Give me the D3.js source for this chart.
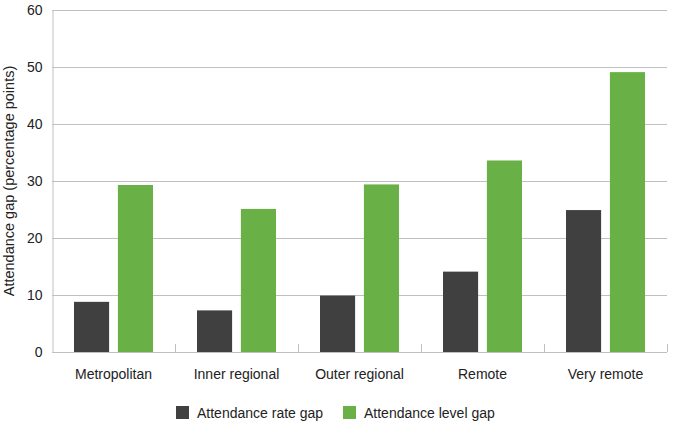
<!DOCTYPE html>
<html><head><meta charset="utf-8">
<script src="https://cdn.jsdelivr.net/npm/d3@7/dist/d3.min.js"></script>
<style>body{margin:0;background:#fff}svg{display:block}text{font-family:"Liberation Sans",Arial,sans-serif}</style>
</head><body><svg id="c" width="675" height="425"></svg>
<script>
const categories = ["Metropolitan","Inner regional","Outer regional","Remote","Very remote"];
const seriesNames = ["Attendance rate gap","Attendance level gap"];
const rateGap = [8.8, 7.3, 9.9, 14.1, 24.9];
const levelGap = [29.3, 25.1, 29.4, 33.6, 49.1];
const yTicks = [0,10,20,30,40,50,60];
const colors = ["#404040","#69b046"];

const svg = d3.select("#c");
const m = {l:52, r:667, t:10, b:352};
const x = d3.scaleBand().domain(categories).range([m.l, m.r]).paddingInner(0).paddingOuter(0);
const x1 = d3.scaleBand().domain([0,1]).range([22, x.bandwidth()-22]).paddingInner(0.2).paddingOuter(0);
const y = d3.scaleLinear().domain([0,60]).range([m.b, m.t]);

// gridlines
svg.append("g").selectAll("line").data(yTicks.filter(d=>d>0)).join("line")
  .attr("x1", m.l).attr("x2", m.r).attr("y1", d=>y(d)+0.5).attr("y2", d=>y(d)+0.5)
  .attr("stroke","#c0c0c0").attr("stroke-width",1);

// bars
const series = [rateGap, levelGap];
const g = svg.append("g");
series.forEach((vals, si) => {
  g.selectAll(null).data(vals).join("rect")
    .attr("x", (d,i)=> x(categories[i]) + x1(si))
    .attr("width", x1.bandwidth())
    .attr("y", d=>y(d))
    .attr("height", d=> y(0)-y(d))
    .attr("fill", colors[si]);
});

// y axis
const ya = svg.append("g").attr("transform",`translate(${m.l+0.5},0)`)
  .call(d3.axisLeft(y).tickValues(yTicks).tickSize(0).tickPadding(10));
ya.select(".domain").attr("stroke","#c0c0c0");
ya.selectAll("text").attr("font-size",14).attr("fill","#222").attr("font-family","Liberation Sans, Arial, sans-serif");

// x axis
const xa = svg.append("g").attr("transform",`translate(0,${m.b+0.5})`)
  .call(d3.axisBottom(x).tickSize(0).tickPadding(17));
xa.select(".domain").attr("stroke","#c0c0c0").attr("d",`M${m.l},0H${m.r}`);
xa.selectAll("text").attr("font-size",14).attr("fill","#222").attr("font-family","Liberation Sans, Arial, sans-serif");
// boundary ticks
const bounds = categories.slice(1).map(c=>x(c)).concat([m.r]);
svg.append("g").selectAll("line").data(bounds).join("line")
  .attr("x1",d=>Math.round(d)+0.5).attr("x2",d=>Math.round(d)+0.5)
  .attr("y1", m.b-8).attr("y2", m.b)
  .attr("stroke","#c0c0c0");

// y title
svg.append("text").attr("transform",`translate(14,${(m.t+m.b)/2}) rotate(-90)`)
  .attr("text-anchor","middle").attr("font-size",14.5).attr("fill","#222")
  .text("Attendance gap (percentage points)");

// legend
const leg = svg.append("g");
const legX = [176, 343];
seriesNames.forEach((n,i)=>{
  leg.append("rect").attr("x",legX[i]).attr("y",406).attr("width",13).attr("height",13).attr("fill",colors[i]);
  leg.append("text").attr("x",legX[i]+21).attr("y",418).attr("font-size",14).attr("fill","#222").text(n);
});
</script></body></html>
